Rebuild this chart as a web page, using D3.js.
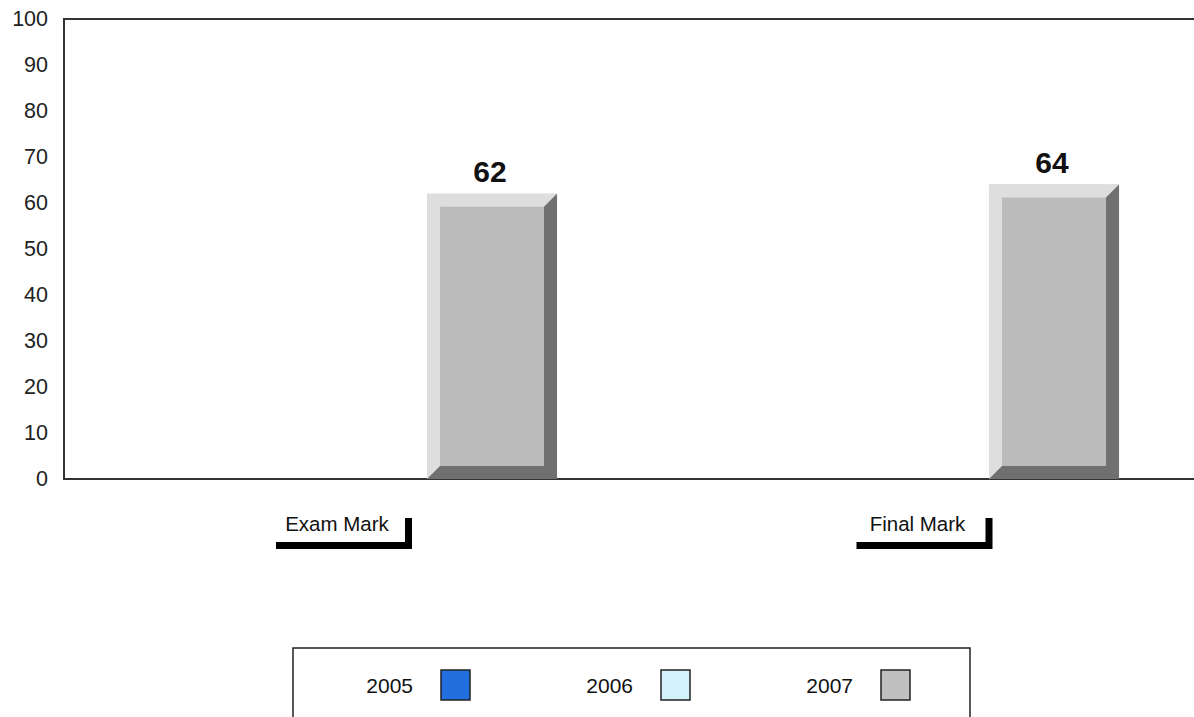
<!DOCTYPE html>
<html>
<head>
<meta charset="utf-8">
<script src="https://cdn.jsdelivr.net/npm/d3@7"></script>
<style>
  html, body { margin: 0; padding: 0; background: #ffffff; }
  svg { display: block; font-family: "Liberation Sans", Arial, sans-serif; }
</style>
</head>
<body>
<svg id="chart" width="1194" height="717"></svg>
<script>
// ---- data ----
const categories = ["Exam Mark", "Final Mark"];
const seriesNames = ["2005", "2006", "2007"];
const values2005 = [null, null];
const values2006 = [null, null];
const values2007 = [62, 64];
const seriesColors = ["#2270e0", "#d4f0fa", "#bbbbbb"];
const yTicks = [0, 10, 20, 30, 40, 50, 60, 70, 80, 90, 100];

const seriesValues = [values2005, values2006, values2007];

// ---- layout ----
const svg = d3.select("#chart");
const plot = { left: 64, top: 19, bottom: 479, right: 1188 };

const y = d3.scaleLinear().domain([0, 100]).range([plot.bottom, plot.top]);
const x0 = d3.scaleBand().domain(categories).range([plot.left, plot.right]).padding(0);
const x1 = d3.scaleBand().domain(seriesNames).range([0, x0.bandwidth()])
  .paddingInner(0.116).paddingOuter(0.469);
const xLabel = d3.scalePoint().domain(categories).range([337, 917.5]);

// frame
svg.append("path")
  .attr("d", `M1200,${plot.top}H${plot.left}V${plot.bottom}H1200`)
  .attr("fill", "none").attr("stroke", "#333").attr("stroke-width", 2);

// y axis labels
const yAxis = d3.axisLeft(y).tickValues(yTicks).tickSize(0).tickPadding(16);
const gy = svg.append("g").attr("transform", `translate(${plot.left},0)`).call(yAxis);
gy.select(".domain").remove();
gy.selectAll("text").attr("font-size", 21.5).attr("fill", "#222")
  .attr("font-family", "Liberation Sans, Arial, sans-serif");

// bars with bevel
const bev = 13;
const barData = [];
seriesNames.forEach((s, si) => {
  categories.forEach((c, ci) => {
    const v = seriesValues[si][ci];
    if (v !== null && v !== undefined) barData.push({ s, si, c, v });
  });
});

const bars = svg.append("g").selectAll("g").data(barData).join("g");
bars.each(function(d) {
  const g = d3.select(this);
  const xa = x0(d.c) + x1(d.s), xb = xa + x1.bandwidth();
  const ya = y(d.v), yb = y(0);
  g.append("rect").attr("x", xa).attr("y", ya).attr("width", xb - xa).attr("height", yb - ya)
    .attr("fill", seriesColors[d.si]);
  g.append("path").attr("fill", "#dedede")
    .attr("d", `M${xa},${ya}L${xb},${ya}L${xb - bev},${ya + bev}L${xa + bev},${ya + bev}L${xa + bev},${yb - bev}L${xa},${yb}Z`);
  g.append("path").attr("fill", "#707070")
    .attr("d", `M${xb},${ya}L${xb},${yb}L${xa},${yb}L${xa + bev},${yb - bev}L${xb - bev},${yb - bev}L${xb - bev},${ya + bev}Z`);
  g.append("text").attr("x", (xa + xb) / 2 - 2).attr("y", ya - 12)
    .attr("text-anchor", "middle").attr("font-size", 30).attr("font-weight", "bold")
    .attr("fill", "#111").text(d.v);
});

// category labels with shadow boxes
const boxW = 136, boxH = 31, sh = 7, boxTop = 511;
const cl = svg.append("g").selectAll("g").data(categories).join("g")
  .attr("transform", d => `translate(${xLabel(d) - boxW / 2},${boxTop})`);
cl.append("rect").attr("x", sh).attr("y", sh).attr("width", boxW).attr("height", boxH).attr("fill", "#000");
cl.append("rect").attr("x", 0).attr("y", 0).attr("width", boxW).attr("height", boxH).attr("fill", "#fff");
cl.append("text").attr("x", boxW / 2).attr("y", 20).attr("text-anchor", "middle")
  .attr("font-size", 20.5).attr("fill", "#111").text(d => d);

// legend
const legend = svg.append("g");
legend.append("rect").attr("x", 293).attr("y", 648).attr("width", 677).attr("height", 100)
  .attr("fill", "#fff").attr("stroke", "#222").attr("stroke-width", 1.5);
const lx = d3.scalePoint().domain(seriesNames).range([441, 881]);
const li = legend.selectAll("g.item").data(seriesNames).join("g").attr("class", "item")
  .attr("transform", d => `translate(${lx(d)},670)`);
li.append("rect").attr("width", 29).attr("height", 30)
  .attr("fill", (d, i) => seriesColors[i] === "#bbbbbb" ? "#c0c0c0" : seriesColors[i])
  .attr("stroke", "#222").attr("stroke-width", 1.5);
li.append("text").attr("x", -28).attr("y", 23).attr("text-anchor", "end")
  .attr("font-size", 21).attr("fill", "#111").text(d => d);
</script>
</body>
</html>
